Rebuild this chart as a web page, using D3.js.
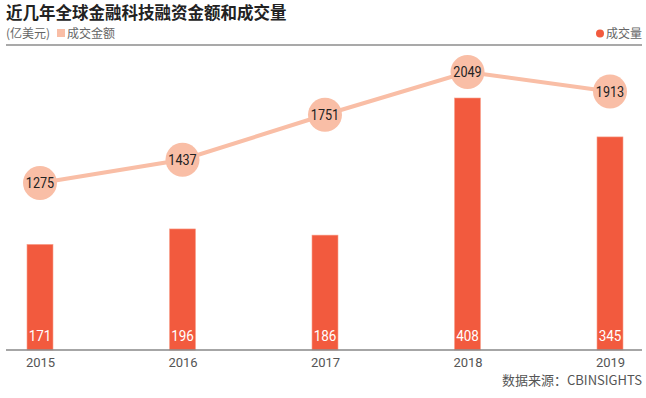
<!DOCTYPE html>
<html><head><meta charset="utf-8">
<script src="https://cdn.jsdelivr.net/npm/d3@7"></script>
<style>body{margin:0;background:#fff}svg{display:block}</style>
</head><body>
<svg id="c" width="646" height="398"></svg>
<script>
const years = ["2015","2016","2017","2018","2019"];
const amounts = [1275, 1437, 1751, 2049, 1913];
const deals = [171, 196, 186, 408, 345];

const svg = d3.select("#c");
const cjk = "'Noto Sans CJK SC', 'Noto Sans', sans-serif";
const num = "'Roboto', 'DejaVu Sans', sans-serif";
const barColor = "#f25a3e", lineColor = "#f9bea6";

svg.append("text").attr("x", 6).attr("y", 19).text("近几年全球金融科技融资金额和成交量")
  .attr("font-family", cjk).attr("font-weight", "bold").attr("font-size", 16.5).attr("fill", "#222");
svg.append("text").attr("x", 6).attr("y", 38).text("(亿美元)")
  .attr("font-family", cjk).attr("font-size", 12).attr("fill", "#666");
svg.append("rect").attr("x", 57).attr("y", 29).attr("width", 8).attr("height", 8).attr("fill", lineColor);
svg.append("text").attr("x", 67).attr("y", 38).text("成交金额")
  .attr("font-family", cjk).attr("font-size", 12).attr("fill", "#666");
svg.append("circle").attr("cx", 600).attr("cy", 33.5).attr("r", 4).attr("fill", barColor);
svg.append("text").attr("x", 642).attr("y", 38).attr("text-anchor", "end").text("成交量")
  .attr("font-family", cjk).attr("font-size", 12).attr("fill", "#666");
svg.append("line").attr("x1", 6).attr("x2", 642).attr("y1", 45).attr("y2", 45)
  .attr("stroke", "#555").attr("stroke-width", 1.2);

const x = d3.scalePoint().domain(years).range([40, 610]);
const yBar = d3.scaleLinear().domain([0, 408]).range([350, 98]);
const yLine = d3.scaleLinear().domain([1275, 2049]).range([183, 72]);
const bw = 26;

svg.selectAll("rect.bar").data(deals).enter().append("rect").attr("class", "bar")
  .attr("x", (d, i) => x(years[i]) - bw / 2).attr("width", bw)
  .attr("y", d => yBar(d)).attr("height", d => yBar(0) - yBar(d))
  .attr("fill", barColor).attr("stroke", "#f8a08c").attr("stroke-width", 0.6);
svg.selectAll("text.bl").data(deals).enter().append("text").attr("class", "bl")
  .attr("transform", (d, i) => `translate(${x(years[i])},341) scale(0.9,1)`).attr("text-anchor", "middle")
  .attr("font-family", num).attr("font-size", 15).attr("fill", "#fff").text(d => d);

const axis = d3.axisBottom(x).tickSize(0).tickPadding(8);
const g = svg.append("g").attr("transform", "translate(0,350)").call(axis);
g.select(".domain").remove();
g.append("line").attr("x1", 6).attr("x2", 642).attr("stroke", "#888").attr("stroke-width", 1.5);
g.selectAll("text").attr("font-family", num).attr("font-size", 13).attr("fill", "#555");

const line = d3.line().x((d, i) => x(years[i])).y(d => yLine(d));
svg.append("path").datum(amounts).attr("d", line).attr("fill", "none")
  .attr("stroke", lineColor).attr("stroke-width", 4);
svg.selectAll("circle.pt").data(amounts).enter().append("circle").attr("class", "pt")
  .attr("cx", (d, i) => x(years[i])).attr("cy", d => yLine(d)).attr("r", 17).attr("fill", lineColor);
svg.selectAll("text.pl").data(amounts).enter().append("text").attr("class", "pl")
  .attr("transform", (d, i) => `translate(${x(years[i])},${yLine(d) + 5}) scale(0.9,1)`).attr("text-anchor", "middle")
  .attr("font-family", num).attr("font-size", 14).attr("fill", "#222").text(d => d);

svg.append("text").attr("x", 642).attr("y", 385).attr("text-anchor", "end").text("数据来源：CBINSIGHTS")
  .attr("font-family", cjk).attr("font-size", 13).attr("fill", "#555");
</script>
</body></html>
